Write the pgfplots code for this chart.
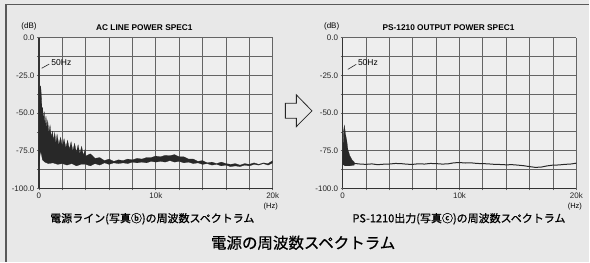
\documentclass[border=0pt]{standalone}
\usepackage{pgfplots}
\pgfplotsset{compat=1.18}
\usepackage{fontspec}
\setmainfont{Liberation Sans}
\newfontfamily\jp{Noto Sans CJK JP}[FakeBold=0.7]
\definecolor{bg}{RGB}{232,232,232}
\definecolor{plotbg}{RGB}{238,238,238}
\definecolor{gridc}{RGB}{100,100,100}
\definecolor{spec}{RGB}{40,40,40}
\pgfplotsset{specax/.style={
  width=234pt, height=151pt, scale only axis,
  xmin=0, xmax=20, ymin=-100, ymax=0,
  xtick={0,2,...,20}, xticklabels={0,,,,,10k,,,,,20k},
  ytick={-100,-87.5,...,0},
  yticklabels={\mbox{-100.0},,\mbox{-75.0},,\mbox{-50.0},,\mbox{-25.0},,\mbox{0.0}},
  grid=major, major grid style={gridc, line width=0.9pt},
  axis x line*=bottom, axis y line*=left,
  axis line style={black!80, line width=1.3pt},
  tick align=outside, major tick length=2pt,
  tick style={gridc, line width=0.8pt},
  ticklabel style={font=\fontsize{8}{8}\selectfont, text=black!85},
  xticklabel style={yshift=1pt},
  yticklabel style={xshift=1pt},
  axis background/.style={fill=plotbg},
  clip=true,
}}
\begin{document}
\begin{tikzpicture}[x=1pt,y=-1pt]
\fill[bg] (0,0) rectangle (590,262);
\draw[black!65, line width=1.3pt] (6,262) -- (6,4.5) -- (590,4.5);
\draw[black!85, line width=0.8pt, fill=bg] (285.7,103.3) -- (296.7,103.3) -- (296.7,95) -- (312.3,111) -- (296.7,126.7) -- (296.7,118.3) -- (285.7,118.3) -- cycle;

\begin{axis}[specax, at={(39pt,-188.7pt)}, anchor=south west]
\addplot[fill=spec, draw=spec, line width=0.2pt] coordinates {
(0,-85) (0.03,-40) (0.08,-33) (0.15,-32) (0.22,-40) (0.27,-50) (0.32,-46) (0.38,-55) (0.45,-49) (0.52,-58) (0.6,-52) (0.68,-60) (0.75,-55) (0.85,-63) (0.95,-58) (1.05,-66) (1.15,-62) (1.25,-68) (1.35,-63) (1.45,-70) (1.55,-64) (1.7,-71) (1.85,-66) (2.0,-72) (2.15,-67) (2.3,-73) (2.45,-68) (2.6,-74) (2.75,-69) (2.9,-75) (3.05,-70) (3.2,-76) (3.35,-71) (3.5,-77) (3.65,-72) (3.8,-78) (3.95,-74)
(4.0,-78.5) (4.4,-77) (4.8,-80) (5.2,-79.5) (5.6,-81.5) (6.0,-80.5) (6.4,-82) (6.8,-81) (7.2,-81.5) (7.6,-80.5) (8.0,-81) (8.4,-80) (8.8,-80.5) (9.2,-79.5) (9.6,-79.5) (10.0,-78.5) (10.4,-79) (10.8,-78) (11.2,-78.3) (11.6,-77.5) (12.0,-79) (12.4,-79) (12.8,-80.5) (13.2,-80.5) (13.6,-82) (14.0,-81.5) (14.4,-83) (14.8,-82.5) (15.2,-83.5) (15.6,-82.5) (16.0,-83.5) (16.4,-84) (16.8,-83.5) (17.2,-84.5) (17.6,-83.5) (18.0,-84) (18.4,-83) (18.8,-84) (19.2,-83) (19.6,-83.5) (20,-81.5)
(20,-83) (19.6,-84.5) (19.2,-83.5) (18.8,-84.5) (18.4,-84) (18.0,-85) (17.6,-84.5) (17.2,-85.5) (16.8,-85) (16.4,-85.5) (16.0,-84.5) (15.6,-85) (15.2,-84) (14.8,-84.5) (14.4,-83.5) (14.0,-84) (13.6,-83) (13.2,-83.5) (12.8,-82.5) (12.4,-83) (12.0,-82) (11.6,-82.5) (11.2,-81.5) (10.8,-82.5) (10.4,-82) (10.0,-82.5) (9.6,-82) (9.2,-83) (8.8,-82.5) (8.4,-83) (8.0,-82.5) (7.6,-83.5) (7.2,-83) (6.8,-83.5) (6.4,-83) (6.0,-84) (5.6,-83) (5.2,-84.5) (4.8,-83.5) (4.4,-85) (4.0,-84)
(3.6,-84) (3.2,-85) (2.8,-83.5) (2.4,-84.5) (2.0,-83.5) (1.6,-84) (1.2,-83) (0.8,-83.5) (0.5,-82.5) (0.3,-81) (0.15,-75) (0.05,-80) (0,-85)
};
\draw[black!85, line width=0.6pt] (axis cs:0.23,-20.3) -- (axis cs:0.88,-17.5);
\node[font=\fontsize{8.5}{8.5}\selectfont, anchor=west, inner sep=0pt] at (axis cs:1.05,-16.5) {50Hz};
\end{axis}

\begin{axis}[specax, at={(343pt,-188.7pt)}, anchor=south west]
\addplot[fill=spec, draw=spec, line width=0.2pt] coordinates {
(0,-84) (0.08,-62) (0.15,-58) (0.25,-64) (0.35,-68) (0.45,-74) (0.6,-78) (0.8,-81) (1.0,-82.5)
(1.0,-84.5) (0.6,-85) (0.2,-85) (0,-84)
};
\addplot[spec, line width=1pt] coordinates {
(0.9,-83.3) (1.5,-83.8) (2,-84) (2.5,-83.7) (3,-84.2) (3.5,-83.9) (4,-83.8) (4.5,-83.4) (5,-83.5) (5.5,-83.9) (6,-84) (6.5,-83.6) (7,-83.8) (7.5,-83.4) (8,-83.5) (8.5,-83.8) (9,-83.7) (9.5,-83) (10,-82.8) (10.5,-83.1) (11,-83) (11.5,-83.4) (12,-83.5) (12.5,-83.7) (13,-84) (13.5,-84.1) (14,-84.3) (14.5,-84.2) (15,-84.5) (15.5,-84.9) (16,-85.5) (16.5,-86) (17,-85.8) (17.5,-85) (18,-84.5) (18.5,-84.4) (19,-84) (19.5,-83.8) (20,-83.2)
};
\draw[black!85, line width=0.6pt] (axis cs:0.45,-21) -- (axis cs:1.16,-17.7);
\node[font=\fontsize{8.5}{8.5}\selectfont, anchor=west, inner sep=0pt] at (axis cs:1.3,-16.5) {50Hz};
\end{axis}

\node[font=\fontsize{8}{8}\selectfont] at (29,26.5) {(dB)};
\node[font=\fontsize{8}{8}\selectfont] at (332,26.5) {(dB)};
\node[font=\bfseries\fontsize{8.3}{8.3}\selectfont] at (144.5,28) {AC LINE POWER SPEC1};
\node[font=\bfseries\fontsize{8.3}{8.3}\selectfont] at (449,28) {PS-1210 OUTPUT POWER SPEC1};
\node[font=\fontsize{7.5}{7.5}\selectfont] at (271,207) {(Hz)};
\node[font=\fontsize{7.5}{7.5}\selectfont] at (575.5,207) {(Hz)};
\node[font=\jp\fontsize{11}{11}\selectfont] at (152.5,219) {電源ライン(写真ⓑ)の周波数スペクトラム};
\node[font=\jp\fontsize{11}{11}\selectfont] at (459.5,219) {PS-1210出力(写真ⓒ)の周波数スペクトラム};
\node[font=\jp\fontsize{15.5}{15.5}\selectfont] at (303.5,243) {電源の周波数スペクトラム};
\end{tikzpicture}
\end{document}
